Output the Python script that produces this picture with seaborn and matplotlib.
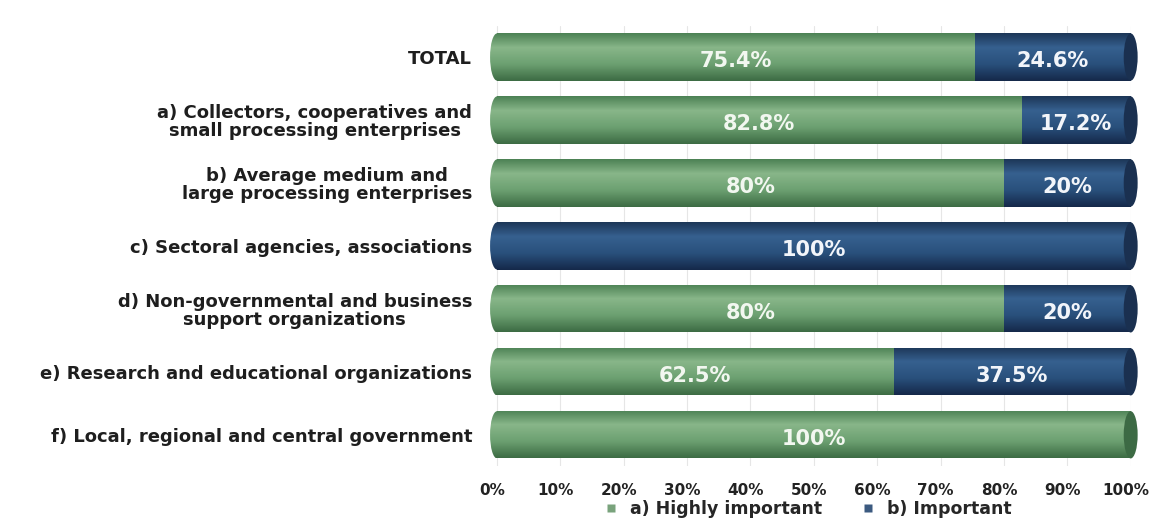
import matplotlib
matplotlib.use("Agg")
import matplotlib.pyplot as plt
import matplotlib.transforms as mtransforms
import seaborn as sns
import numpy as np
import pandas as pd
from matplotlib.colors import LinearSegmentedColormap
from matplotlib.lines import Line2D
from matplotlib.patches import Ellipse

# Survey groups (top to bottom) and the share of answers per importance level
categories = [
    "TOTAL",
    "a) Collectors, cooperatives and\nsmall processing enterprises",
    "b) Average medium and\nlarge processing enterprises",
    "c) Sectoral agencies, associations",
    "d) Non-governmental and business\nsupport organizations",
    "e) Research and educational organizations",
    "f) Local, regional and central government",
]
highly_important = [75.4, 82.8, 80, 0, 80, 62.5, 100]
important = [24.6, 17.2, 20, 100, 20, 37.5, 0]
series_names = ["a) Highly important", "b) Important"]
x_ticks = list(range(0, 101, 10))

GREEN = "#66a06c"
BLUE = "#274a75"
green_cmap = LinearSegmentedColormap.from_list(
    "cyl_green", [(0, "#4d8255"), (0.3, "#88b689"), (0.65, "#6ca071"), (1, "#3d6c44")])
blue_cmap = LinearSegmentedColormap.from_list(
    "cyl_blue", [(0, "#1d3758"), (0.3, "#36608f"), (0.65, "#29507c"), (1, "#15294a")])

df = pd.DataFrame({
    "group": categories,
    "highly": highly_important,
    "important": important,
})
df["total"] = df["highly"] + df["important"]

sns.set_theme(style="white")
plt.rcParams["font.family"] = ["DejaVu Sans"]

fig = plt.figure(figsize=(11.5, 5.21), dpi=100)
# a little room left of 0% so the rounded bar ends stay inside the axes
X_MIN = -1.2
ax = fig.add_axes([0.4256, 0.105, 0.5576, 0.846])

BAR_H = 0.75
# Stacked bars: the full length in blue, the "highly important" part drawn over it
sns.barplot(data=df, x="total", y="group", orient="h", color=BLUE,
            width=BAR_H, saturation=1, ax=ax, zorder=2, linewidth=0)
n_blue = len(ax.patches)
sns.barplot(data=df, x="highly", y="group", orient="h", color=GREEN,
            width=BAR_H, saturation=1, ax=ax, zorder=3, linewidth=0)

profile = np.linspace(0, 1, 64).reshape(-1, 1)


def shade(clip, x0, w, y0, h, cmap, z):
    """Fill a shape with a vertical gradient to give it a cylinder look."""
    if w <= 0:
        return
    img = ax.imshow(profile, cmap=cmap, aspect="auto", origin="upper",
                    extent=(x0, x0 + w, y0 + h, y0), zorder=z,
                    interpolation="bilinear")
    img.set_clip_path(clip)


bar_patches = list(ax.patches)
for i, p in enumerate(bar_patches):
    cmap, z = (blue_cmap, 2.1) if i < n_blue else (green_cmap, 3.1)
    shade(p, p.get_x(), p.get_width(), p.get_y(), p.get_height(), cmap, z)

# Rounded left ends and dark end caps on the right side of each bar
CAP_W = 2.2
for i, p in enumerate(bar_patches[:n_blue]):
    y0, h = p.get_y(), p.get_height()
    start = p.get_x()
    end = start + p.get_width()
    left_cap = Ellipse((start, y0 + h / 2), width=CAP_W, height=h,
                       facecolor="none", edgecolor="none")
    ax.add_patch(left_cap)
    left_cmap = green_cmap if highly_important[i] > 0 else blue_cmap
    shade(left_cap, start - CAP_W / 2, CAP_W, y0, h, left_cmap, 1.5)
    cap_color = "#1a3050" if important[i] > 0 else "#3c6a44"
    ax.add_patch(Ellipse((end, y0 + h / 2), width=CAP_W, height=h,
                         facecolor=cap_color, edgecolor="none", zorder=4,
                         clip_on=False))

# Value labels in every segment, sitting on the front face of the cylinder
LABEL_DY = 0.06
for i in range(len(categories)):
    if highly_important[i] > 0:
        ax.text(highly_important[i] / 2, i + LABEL_DY, f"{highly_important[i]:g}%",
                ha="center", va="center", color="#f2f7f0",
                fontsize=15, fontweight="bold", zorder=6)
    if important[i] > 0:
        ax.text(highly_important[i] + important[i] / 2, i + LABEL_DY,
                f"{important[i]:g}%",
                ha="center", va="center", color="#f2f5fa",
                fontsize=15, fontweight="bold", zorder=6)

ax.set_xlim(X_MIN, 100)
ax.set_ylim(len(categories) - 0.5, -0.5)
ax.set_xticks(x_ticks)
ax.set_xticklabels([f"{t}%" for t in x_ticks], fontsize=11, fontweight="bold",
                   color="#222222")
ax.tick_params(axis="x", length=0, pad=12)
ax.tick_params(axis="y", length=0, pad=12.5)
shift = mtransforms.ScaledTranslation(-5 / 100, 0, fig.dpi_scale_trans)
for lbl in ax.get_xticklabels():
    lbl.set_transform(lbl.get_transform() + shift)
for lbl in ax.get_yticklabels():
    lbl.set_fontsize(13)
    lbl.set_fontweight("bold")
    lbl.set_color("#1e1e1e")
    lbl.set_multialignment("center")
    lbl.set_linespacing(1.0)
ax.set_xlabel("")
ax.set_ylabel("")
ax.xaxis.grid(True, color="#e6e6e6", linewidth=0.8, zorder=0)
ax.set_axisbelow(True)
for s in ax.spines.values():
    s.set_visible(False)

handles = [
    Line2D([], [], marker="s", linestyle="none", markersize=6,
           markerfacecolor="#79a37c", markeredgecolor="none"),
    Line2D([], [], marker="s", linestyle="none", markersize=6,
           markerfacecolor="#3c5a80", markeredgecolor="none"),
]
fig.legend(handles, series_names, loc="lower center", ncol=2,
           bbox_to_anchor=(0.698, -0.025), frameon=False,
           prop={"weight": "bold", "size": 12.5}, handletextpad=0.1,
           columnspacing=1.6)

fig.savefig("out.png", dpi=100, facecolor="white")
